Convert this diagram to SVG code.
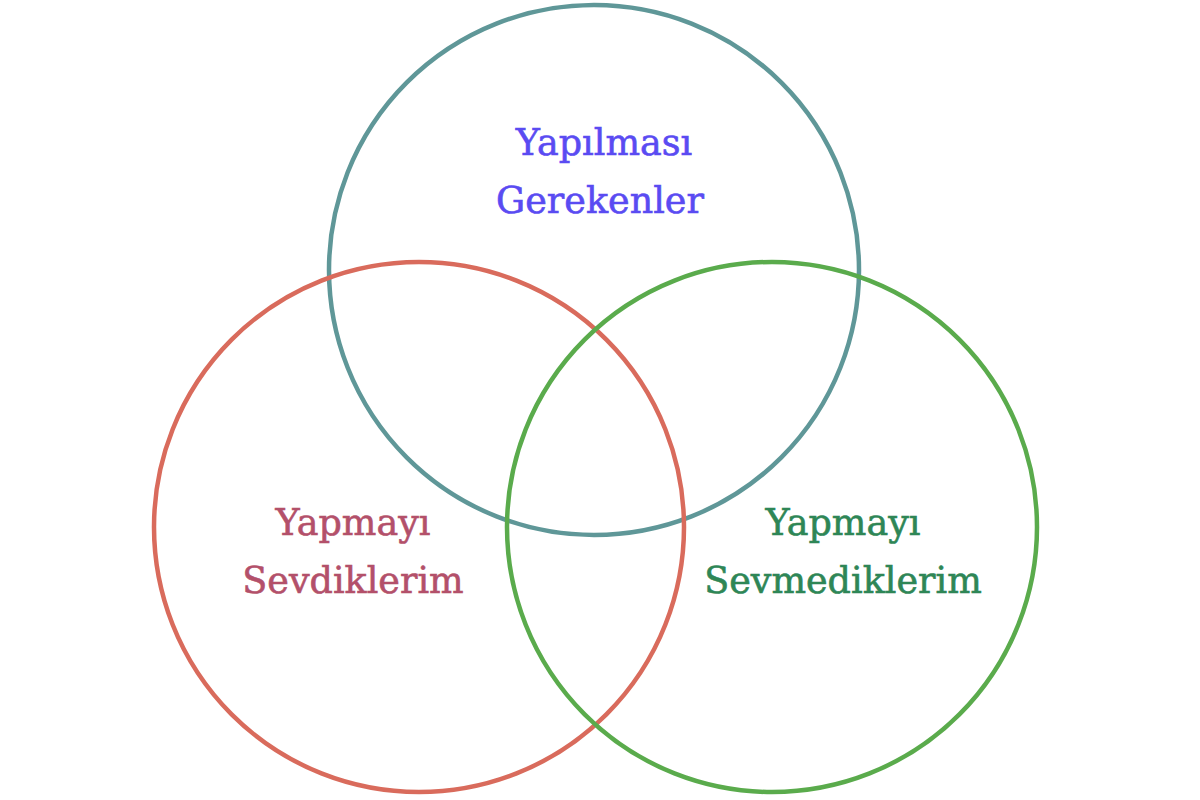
<svg xmlns="http://www.w3.org/2000/svg" width="1200" height="800" viewBox="0 0 1200 800">
<style>
circle{fill:none;stroke-width:4.5}
text{font-family:"DejaVu Serif","Liberation Serif",serif;font-size:36.5px;text-anchor:middle;stroke-width:0.6}
</style>
<rect width="1200" height="800" fill="#fff"/>
<g id="top"><circle cx="594" cy="270" r="265" stroke="#5f9798"/>
<text x="604" y="155" fill="#5a4bf2" stroke="#5a4bf2">Yapılması</text><text x="600" y="213" fill="#5a4bf2" stroke="#5a4bf2">Gerekenler</text></g>
<g id="left"><circle cx="419" cy="527" r="265" stroke="#d96b5c"/>
<text x="353" y="535" fill="#b3506a" stroke="#b3506a">Yapmayı</text><text x="353" y="593" fill="#b3506a" stroke="#b3506a">Sevdiklerim</text></g>
<g id="right"><circle cx="772" cy="527" r="265" stroke="#5aab4c"/>
<text x="843" y="535" fill="#2e8656" stroke="#2e8656">Yapmayı</text><text x="843" y="593" fill="#2e8656" stroke="#2e8656">Sevmediklerim</text></g>
<g id="connectors"/>
</svg>
